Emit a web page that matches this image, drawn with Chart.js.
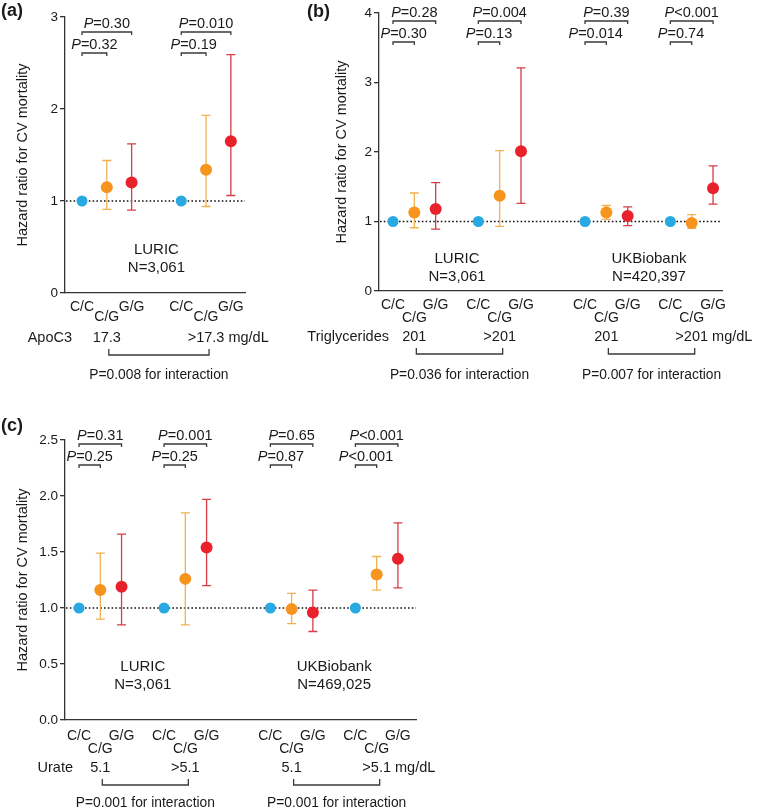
<!DOCTYPE html>
<html><head><meta charset="utf-8">
<script src="https://cdn.jsdelivr.net/npm/chart.js@4/dist/chart.umd.min.js"></script>
<style>
html,body{margin:0;padding:0;background:#fff;}
body{width:758px;height:808px;position:relative;overflow:hidden;}
canvas{position:absolute;}
</style></head><body>
<canvas id="cA" width="380" height="400" style="left:0;top:0"></canvas>
<canvas id="cB" width="468" height="400" style="left:290px;top:0"></canvas>
<canvas id="cC" width="758" height="410" style="left:0;top:405px"></canvas>
<script>
// ---------------- DATA ----------------
const yTitle = 'Hazard ratio for CV mortality';

// (a) ApoC3, LURIC
const apoCats = ['C/C','C/G','G/G','','C/C','C/G','G/G'];
const apoYTicks = [0, 1, 2, 3];
const apoStrata = ['17.3', '>17.3'];
const apoUnit = 'mg/dL';
const apoCohorts = ['LURIC'];
const apoN = ['N=3,061'];
const apoCC = [1.00, 1.00];
const apoCG = [1.15, 1.34];
const apoCGlo = [0.91, 0.94];
const apoCGhi = [1.44, 1.93];
const apoGG = [1.20, 1.65];
const apoGGlo = [0.90, 1.06];
const apoGGhi = [1.62, 2.59];
const apoPTop = ['=0.30', '=0.010'];
const apoPLow = ['=0.32', '=0.19'];
const apoInter = ['P=0.008 for interaction'];

// (b) Triglycerides, LURIC + UKBiobank
const tgCats = ['C/C','C/G','G/G','','C/C','C/G','G/G','','','C/C','C/G','G/G','','C/C','C/G','G/G'];
const tgYTicks = [0, 1, 2, 3, 4];
const tgStrata = ['201', '>201', '201', '>201'];
const tgUnit = 'mg/dL';
const tgCohorts = ['LURIC', 'UKBiobank'];
const tgN = ['N=3,061', 'N=420,397'];
const tgCC = [1.00, 1.00, 1.00, 1.00];
const tgCG = [1.13, 1.37, 1.13, 0.98];
const tgCGlo = [0.91, 0.93, 1.03, 0.90];
const tgCGhi = [1.41, 2.02, 1.23, 1.10];
const tgGG = [1.18, 2.01, 1.08, 1.48];
const tgGGlo = [0.89, 1.26, 0.94, 1.25];
const tgGGhi = [1.56, 3.21, 1.21, 1.80];
const tgPTop = ['=0.28', '=0.004', '=0.39', '<0.001'];
const tgPLow = ['=0.30', '=0.13', '=0.014', '=0.74'];
const tgInter = ['P=0.036 for interaction', 'P=0.007 for interaction'];

// (c) Urate, LURIC + UKBiobank
const urCats = ['C/C','C/G','G/G','','C/C','C/G','G/G','','','C/C','C/G','G/G','','C/C','C/G','G/G'];
const urYTicks = [0, 0.5, 1.0, 1.5, 2.0, 2.5];
const urStrata = ['5.1', '>5.1', '5.1', '>5.1'];
const urUnit = 'mg/dL';
const urCohorts = ['LURIC', 'UKBiobank'];
const urN = ['N=3,061', 'N=469,025'];
const urCC = [1.00, 1.00, 1.00, 1.00];
const urCG = [1.16, 1.26, 0.99, 1.30];
const urCGlo = [0.90, 0.85, 0.86, 1.16];
const urCGhi = [1.49, 1.85, 1.13, 1.46];
const urGG = [1.19, 1.54, 0.96, 1.44];
const urGGlo = [0.85, 1.20, 0.79, 1.18];
const urGGhi = [1.66, 1.97, 1.16, 1.76];
const urPTop = ['=0.31', '=0.001', '=0.65', '<0.001'];
const urPLow = ['=0.25', '=0.25', '=0.87', '<0.001'];
const urInter = ['P=0.001 for interaction', 'P=0.001 for interaction'];

// ---------------- STYLE ----------------
const FONT = "'Liberation Sans', Arial, Helvetica, sans-serif";
const BLUE = '#29a9e1', ORANGE = '#f7941d', RED = '#e8212a';
const ORANGE_ERR = '#f3b04f', RED_ERR = '#d63c45';
const AX = '#333333', TXT = '#1a1a1a';

function drawP(ctx, cx, cy, rest, size) {
  const fi = `italic ${size}px ${FONT}`, fn = `${size}px ${FONT}`;
  ctx.font = fi; const w1 = ctx.measureText('P').width;
  ctx.font = fn; const w2 = ctx.measureText(rest).width;
  const x0 = cx - (w1 + w2) / 2;
  ctx.textAlign = 'left'; ctx.textBaseline = 'middle'; ctx.fillStyle = TXT;
  ctx.font = fi; ctx.fillText('P', x0, cy);
  ctx.font = fn; ctx.fillText(rest, x0 + w1, cy);
}

const panelPlugin = {
  id: 'panel',
  beforeDatasetsDraw(chart) {
    const {ctx, chartArea: a, scales: {x, y}} = chart;
    ctx.save();
    ctx.strokeStyle = '#111'; ctx.lineWidth = 1.6; ctx.setLineDash([1.6, 2.2]);
    const y1 = y.getPixelForValue(1);
    ctx.beginPath(); ctx.moveTo(a.left + 1, y1); ctx.lineTo(a.right, y1); ctx.stroke();
    ctx.restore();
    chart.data.datasets.forEach(ds => {
      if (!ds.lo) return;
      ctx.save(); ctx.strokeStyle = ds.errColor; ctx.lineWidth = 1.3;
      ds.data.forEach((p, i) => {
        const xp = x.getPixelForValue(p.x);
        const yl = y.getPixelForValue(ds.lo[i]), yh = y.getPixelForValue(ds.hi[i]);
        ctx.beginPath();
        ctx.moveTo(xp, yl); ctx.lineTo(xp, yh);
        ctx.moveTo(xp - 4.5, yl); ctx.lineTo(xp + 4.5, yl);
        ctx.moveTo(xp - 4.5, yh); ctx.lineTo(xp + 4.5, yh);
        ctx.stroke();
      });
      ctx.restore();
    });
  },
  afterDraw(chart) {
    const o = chart.options.plugins.panel;
    const {ctx, chartArea: a, scales: {x, y}} = chart;
    const base = o.base;
    const X = v => x.getPixelForValue(v);
    ctx.save();
    ctx.strokeStyle = '#3a3a3a'; ctx.lineWidth = 1.3;
    // significance brackets
    base.forEach((b, s) => {
      const xc = X(b), xg = X(b + 1), xr = X(b + 2);
      const yT = a.top + o.brTop, yL = yT + 21;
      ctx.beginPath();
      ctx.moveTo(xc, yT + 3); ctx.lineTo(xc, yT); ctx.lineTo(xr, yT); ctx.lineTo(xr, yT + 3);
      ctx.moveTo(xc, yL + 3); ctx.lineTo(xc, yL); ctx.lineTo(xg, yL); ctx.lineTo(xg, yL + 3);
      ctx.stroke();
      drawP(ctx, (xc + xr) / 2, yT - 8, o.pTop[s], 14.5);
      drawP(ctx, (xc + xg) / 2, yL - 8, o.pLow[s], 14.5);
    });
    // cohort labels
    ctx.fillStyle = TXT; ctx.textAlign = 'center'; ctx.textBaseline = 'middle';
    ctx.font = `15px ${FONT}`;
    o.cohorts.forEach((c, k) => {
      const cx = (X(base[2 * k]) + X(base[2 * k + 1] + 2)) / 2;
      const cy = y.getPixelForValue(0.5) + 3;
      ctx.fillText(c, cx, cy);
      ctx.fillText(o.ns[k], cx, cy + 18);
    });
    // row title
    ctx.font = `14.5px ${FONT}`;
    ctx.textAlign = 'right';
    ctx.fillText(o.rowTitle, a.left + o.rowDx, a.bottom + o.rowDy);
    // strata labels
    o.strata.forEach((t, s) => {
      const cx = X(base[s] + 1);
      if (s === o.strata.length - 1) {
        const w = ctx.measureText(t).width;
        ctx.textAlign = 'left';
        ctx.fillText(t + ' ' + o.unit, cx - w / 2, a.bottom + o.rowDy);
      } else {
        ctx.textAlign = 'center';
        ctx.fillText(t, cx, a.bottom + o.rowDy);
      }
    });
    // interaction brackets
    ctx.font = `13.8px ${FONT}`; ctx.textAlign = 'center';
    o.inter.forEach((t, k) => {
      const x1 = X(base[2 * k] + 1) + 2, x2 = X(base[2 * k + 1] + 1) + 3;
      const yb = a.bottom + o.intDy;
      ctx.beginPath();
      ctx.moveTo(x1, yb - 6); ctx.lineTo(x1, yb); ctx.lineTo(x2, yb); ctx.lineTo(x2, yb - 6);
      ctx.stroke();
      ctx.fillText(t, (x1 + x2) / 2, a.bottom + o.intTextDy);
    });
    // panel letter
    ctx.font = `bold 18px ${FONT}`; ctx.textAlign = 'left';
    ctx.fillText(o.letter, o.letterX, o.letterY);
    ctx.restore();
  }
};

function makePanel(id, p) {
  const base = p.cats.map((c, i) => c === 'C/C' ? i : -1).filter(i => i >= 0);
  const tickIdx = p.cats.map((c, i) => c ? i : -1).filter(i => i >= 0);
  const mk = (vals, g) => vals.map((v, s) => ({x: base[s] + g, y: v}));
  new Chart(document.getElementById(id), {
    type: 'scatter',
    data: {datasets: [
      {data: mk(p.cc, 0), backgroundColor: BLUE, pointRadius: 5.5, pointBorderWidth: 0, pointHoverRadius: 5.5},
      {data: mk(p.cg, 1), lo: p.cgLo, hi: p.cgHi, errColor: ORANGE_ERR, backgroundColor: ORANGE, pointRadius: 6, pointBorderWidth: 0, pointHoverRadius: 6},
      {data: mk(p.gg, 2), lo: p.ggLo, hi: p.ggHi, errColor: RED_ERR, backgroundColor: RED, pointRadius: 6, pointBorderWidth: 0, pointHoverRadius: 6}
    ]},
    options: {
      responsive: false, animation: false, events: [],
      layout: {padding: {left: 0, top: p.top, right: p.right, bottom: p.bottom}},
      plugins: {
        legend: {display: false}, tooltip: {enabled: false},
        panel: {base, pTop: p.pTop, pLow: p.pLow, cohorts: p.cohorts, ns: p.ns,
          rowTitle: p.rowTitle, rowDx: p.rowDx, rowDy: p.rowDy, strata: p.strata, unit: p.unit,
          inter: p.inter, intDy: p.intDy, intTextDy: p.intTextDy, brTop: p.brTop,
          letter: p.letter, letterX: p.letterX, letterY: p.letterY}
      },
      scales: {
        x: {
          type: 'linear', min: p.xmin, max: p.xmax,
          afterBuildTicks: s => { s.ticks = tickIdx.map(v => ({value: v})); },
          afterFit: s => { s.height = 40; },
          grid: {display: true, drawOnChartArea: false, drawTicks: false},
          border: {display: true, color: AX, width: 1.3},
          ticks: {autoSkip: false, maxRotation: 0, minRotation: 0, padding: p.xPad, color: TXT,
            font: {family: FONT, size: 14, lineHeight: p.xLH},
            callback: v => { const c = p.cats[Math.round(v)]; return c === 'C/G' ? ['', c] : c; }}
        },
        y: {
          min: p.yTicks[0], max: p.yTicks[p.yTicks.length - 1],
          afterBuildTicks: s => { s.ticks = p.yTicks.map(v => ({value: v})); },
          afterFit: s => { s.width = p.left; },
          grid: {drawOnChartArea: false, drawTicks: true, tickLength: 5, color: AX, lineWidth: 1.3},
          border: {display: true, color: AX, width: 1.3},
          ticks: {padding: 2, color: TXT, font: {family: FONT, size: 13.5}, callback: v => p.fmt(v)},
          title: {display: true, text: yTitle, color: TXT, font: {family: FONT, size: 14.5},
            padding: {top: p.titlePad, bottom: 0}}
        }
      }
    },
    plugins: [panelPlugin]
  });
}

makePanel('cA', {
  cats: apoCats, yTicks: apoYTicks, fmt: v => String(v),
  cc: apoCC, cg: apoCG, cgLo: apoCGlo, cgHi: apoCGhi, gg: apoGG, ggLo: apoGGlo, ggHi: apoGGhi,
  pTop: apoPTop, pLow: apoPLow, cohorts: apoCohorts, ns: apoN,
  rowTitle: 'ApoC3', strata: apoStrata, unit: apoUnit, inter: apoInter,
  left: 65, top: 17, right: 135, bottom: 67, xmin: -0.685, xmax: 6.57,
  xPad: 9, xLH: '10px', titlePad: 14, brTop: 15, rowDx: 7, rowDy: 45, intDy: 62, intTextDy: 82,
  letter: '(a)', letterX: 1, letterY: 11
});
makePanel('cB', {
  cats: tgCats, yTicks: tgYTicks, fmt: v => String(v),
  cc: tgCC, cg: tgCG, cgLo: tgCGlo, cgHi: tgCGhi, gg: tgGG, ggLo: tgGGlo, ggHi: tgGGhi,
  pTop: tgPTop, pLow: tgPLow, cohorts: tgCohorts, ns: tgN,
  rowTitle: 'Triglycerides', strata: tgStrata, unit: tgUnit, inter: tgInter,
  left: 89, top: 13, right: 36, bottom: 69, xmin: -0.656, xmax: 15.42,
  xPad: 7.5, xLH: '13px', titlePad: 43, brTop: 8, rowDx: 10, rowDy: 46, intDy: 63, intTextDy: 84,
  letter: '(b)', letterX: 17, letterY: 12
});
makePanel('cC', {
  cats: urCats, yTicks: urYTicks, fmt: v => v.toFixed(1),
  cc: urCC, cg: urCG, cgLo: urCGlo, cgHi: urCGhi, gg: urGG, ggLo: urGGlo, ggHi: urGGhi,
  pTop: urPTop, pLow: urPLow, cohorts: urCohorts, ns: urN,
  rowTitle: 'Urate', strata: urStrata, unit: urUnit, inter: urInter,
  left: 65, top: 35, right: 342, bottom: 55, xmin: -0.66, xmax: 15.85,
  xPad: 9.5, xLH: '13px', titlePad: 14, brTop: 4, rowDx: 8, rowDy: 48, intDy: 65, intTextDy: 83,
  letter: '(c)', letterX: 1, letterY: 21
});
</script>
</body></html>
